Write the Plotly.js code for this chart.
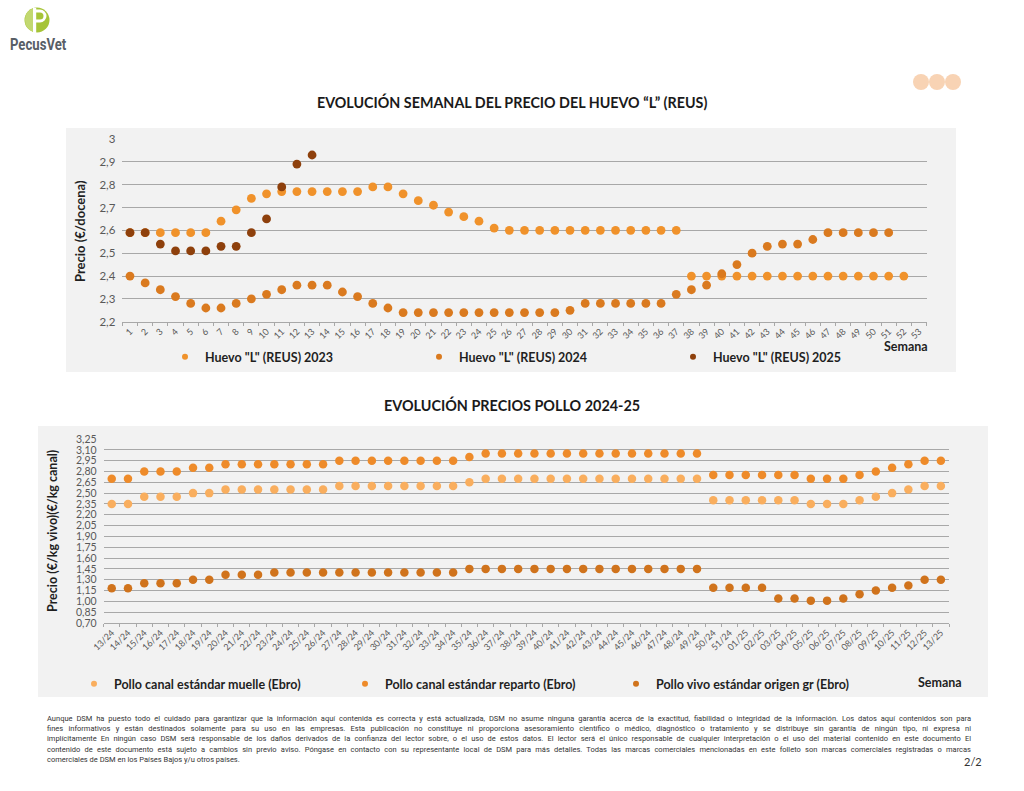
<!DOCTYPE html>
<html>
<head>
<meta charset="utf-8">
<script src="https://cdn.plot.ly/plotly-3.0.1.min.js"></script>
<style>
  html, body { margin: 0; padding: 0; background: #ffffff; }
  #wrap { position: relative; width: 1024px; height: 791px; overflow: hidden; }
  #chart { position: absolute; left: 0; top: 0; width: 1024px; height: 791px; }
  #logo { position: absolute; left: 0; top: 0; width: 90px; height: 60px; }
  #logoText { position: absolute; left: 10px; top: 35px; font-family: "Roboto", "Liberation Sans", sans-serif; font-weight: bold; font-size: 16px; color: #585e66; transform: scaleX(0.82); transform-origin: left top; }
  #dots { position: absolute; left: 905px; top: 68px; }
  #footer { position: absolute; left: 47px; top: 714px; width: 924px; font-family: "Roboto", "Liberation Sans", sans-serif; font-size: 7.5px; line-height: 10.2px; color: #333333; }
  #footer div { white-space: nowrap; text-align: justify; text-align-last: justify; }
  #footer div.last { text-align-last: left; }
  #page { position: absolute; left: 964px; top: 755px; font-family: "Lato", sans-serif; font-size: 11px; color: #333333; }
</style>
</head>
<body>
<div id="wrap">
  <div id="chart"></div>
  <svg id="logo" width="90" height="60" viewBox="0 0 90 60">
    <circle cx="37" cy="20" r="12.5" fill="#a6c437"/>
    <path d="M25 20 A12.5 12.5 0 0 1 33 8.3 L33 31.7 A12.5 12.5 0 0 1 25 20 Z" fill="#c2d870"/>
    <rect x="33" y="8" width="3.2" height="25" fill="#ffffff"/>
    <path d="M36 11 L40 11 A5 5 0 0 1 40 21 L36 21" fill="none" stroke="#ffffff" stroke-width="3"/>
  </svg>
  <div id="logoText">PecusVet</div>
  <svg id="dots" width="60" height="30">
    <circle cx="16" cy="14" r="8" fill="#f8d3b4"/>
    <circle cx="32" cy="14" r="8" fill="#f8d3b4"/>
    <circle cx="48" cy="14" r="8" fill="#f8d3b4"/>
  </svg>
  <div id="footer">
    <div>Aunque DSM ha puesto todo el cuidado para garantizar que la información aquí contenida es correcta y está actualizada, DSM no asume ninguna garantía acerca de la exactitud, fiabilidad o integridad de la información. Los datos aquí contenidos son para</div>
    <div>fines informativos y están destinados solamente para su uso en las empresas. Esta publicación no constituye ni proporciona asesoramiento científico o médico, diagnóstico o tratamiento y se distribuye sin garantía de ningún tipo, ni expresa ni</div>
    <div>implícitamente En ningún caso DSM será responsable de los daños derivados de la confianza del lector sobre, o el uso de estos datos. El lector será el único responsable de cualquier interpretación o el uso del material contenido en este documento El</div>
    <div>contenido de este documento está sujeto a cambios sin previo aviso. Póngase en contacto con su representante local de DSM para más detalles. Todas las marcas comerciales mencionadas en este folleto son marcas comerciales registradas o marcas</div>
    <div class="last">comerciales de DSM en los Países Bajos y/u otros países.</div>
  </div>
  <div id="page">2/2</div>
</div>
<script>
// ---------- DATA: Huevo "L" (REUS) ----------
const semanas = ["1","2","3","4","5","6","7","8","9","10","11","12","13","14","15","16","17","18","19","20",
  "21","22","23","24","25","26","27","28","29","30","31","32","33","34","35","36","37","38","39","40",
  "41","42","43","44","45","46","47","48","49","50","51","52","53"];
const huevo2023 = [2.59,2.59,2.59,2.59,2.59,2.59,2.64,2.69,2.74,2.76,2.77,2.77,2.77,2.77,2.77,2.77,2.79,2.79,2.76,2.73,
  2.71,2.68,2.66,2.64,2.61,2.60,2.60,2.60,2.60,2.60,2.60,2.60,2.60,2.60,2.60,2.60,2.60,2.40,2.40,2.40,
  2.40,2.40,2.40,2.40,2.40,2.40,2.40,2.40,2.40,2.40,2.40,2.40];
const huevo2024 = [2.40,2.37,2.34,2.31,2.28,2.26,2.26,2.28,2.30,2.32,2.34,2.36,2.36,2.36,2.33,2.31,2.28,2.26,2.24,2.24,
  2.24,2.24,2.24,2.24,2.24,2.24,2.24,2.24,2.24,2.25,2.28,2.28,2.28,2.28,2.28,2.28,2.32,2.34,2.36,2.41,
  2.45,2.50,2.53,2.54,2.54,2.56,2.59,2.59,2.59,2.59,2.59];
const huevo2025 = [2.59,2.59,2.54,2.51,2.51,2.51,2.53,2.53,2.59,2.65,2.79,2.89,2.93];

// ---------- DATA: Pollo 2024-25 ----------
const semanasPollo = ["13/24","14/24","15/24","16/24","17/24","18/24","19/24","20/24","21/24","22/24","23/24","24/24","25/24",
  "26/24","27/24","28/24","29/24","30/24","31/24","32/24","33/24","34/24","35/24","36/24","37/24","38/24","39/24","40/24",
  "41/24","42/24","43/24","44/24","45/24","46/24","47/24","48/24","49/24","50/24","51/24",
  "01/25","02/25","03/25","04/25","05/25","06/25","07/25","08/25","09/25","10/25","11/25","12/25","13/25"];
const polloMuelle = [2.35,2.35,2.45,2.45,2.45,2.50,2.50,2.55,2.55,2.55,2.55,2.55,2.55,2.55,2.60,2.60,2.60,2.60,2.60,2.60,2.60,2.60,
  2.65,2.70,2.70,2.70,2.70,2.70,2.70,2.70,2.70,2.70,2.70,2.70,2.70,2.70,2.70,
  2.40,2.40,2.40,2.40,2.40,2.40,2.35,2.35,2.35,2.40,2.45,2.50,2.55,2.60,2.60];
const polloReparto = [2.70,2.70,2.80,2.80,2.80,2.85,2.85,2.90,2.90,2.90,2.90,2.90,2.90,2.90,2.95,2.95,2.95,2.95,2.95,2.95,2.95,2.95,
  3.00,3.05,3.05,3.05,3.05,3.05,3.05,3.05,3.05,3.05,3.05,3.05,3.05,3.05,3.05,
  2.75,2.75,2.75,2.75,2.75,2.75,2.70,2.70,2.70,2.75,2.80,2.85,2.90,2.95,2.95];
const polloVivo = [1.18,1.18,1.25,1.25,1.25,1.30,1.30,1.37,1.37,1.37,1.40,1.40,1.40,1.40,1.40,1.40,1.40,1.40,1.40,1.40,1.40,1.40,
  1.45,1.45,1.45,1.45,1.45,1.45,1.45,1.45,1.45,1.45,1.45,1.45,1.45,1.45,1.45,
  1.19,1.19,1.19,1.19,1.04,1.04,1.01,1.01,1.04,1.10,1.15,1.19,1.22,1.30,1.30];

const nombresHuevo = ['Huevo "L" (REUS) 2023','Huevo "L" (REUS) 2024','Huevo "L" (REUS) 2025'];
const nombresPollo = ['Pollo canal estándar muelle (Ebro)','Pollo canal estándar reparto (Ebro)','Pollo vivo estándar origen gr (Ebro)'];

// ---------- STYLE ----------
const W = 1024, H = 791;
const px = v => v / W;
const py = v => 1 - v / H;
const FONT = 'Lato, "Open Sans", sans-serif';
const colH = ['#f0922b', '#da7a1f', '#8e400c'];
const colP = ['#f9ae5e', '#ee8b2a', '#d0731c'];
const grid = '#a8a8a8';
const tickCol = '#595959';

function pts(x, y, color, xa, ya, size) {
  return { type: 'scatter', mode: 'markers', x: x, y: y, xaxis: xa, yaxis: ya,
    marker: { color: color, size: size }, cliponaxis: false, showlegend: false, hoverinfo: 'skip' };
}
function legendItem(name, color, lg) {
  return { type: 'scatter', mode: 'markers', x: [null], y: [null], xaxis: lg === 'legend' ? 'x' : 'x2',
    yaxis: lg === 'legend' ? 'y' : 'y3', name: name, legend: lg,
    marker: { color: color, size: 6 }, showlegend: true, hoverinfo: 'skip' };
}

const traces = [
  pts(semanas.slice(0, huevo2023.length), huevo2023, colH[0], 'x', 'y', 8.8),
  pts(semanas.slice(0, huevo2024.length), huevo2024, colH[1], 'x', 'y', 8.8),
  pts(semanas.slice(0, huevo2025.length), huevo2025, colH[2], 'x', 'y', 8.8),
  pts(semanasPollo, polloMuelle, colP[0], 'x2', 'y3', 8.5),
  pts(semanasPollo, polloReparto, colP[1], 'x2', 'y3', 8.5),
  pts(semanasPollo, polloVivo, colP[2], 'x2', 'y3', 8.5),
  legendItem(nombresHuevo[0], colH[0], 'legend'),
  legendItem(nombresHuevo[1], colH[1], 'legend'),
  legendItem(nombresHuevo[2], colH[2], 'legend'),
  legendItem(nombresPollo[0], colP[0], 'legend2'),
  legendItem(nombresPollo[1], colP[1], 'legend2'),
  legendItem(nombresPollo[2], colP[2], 'legend2')
];

const xCommon = { type: 'category', tickson: 'boundaries', ticks: 'outside', ticklen: 3, tickcolor: grid,
  showline: true, linecolor: grid, linewidth: 1, showgrid: false, zeroline: false, tickangle: -45,
  tickfont: { family: FONT, size: 9, color: tickCol }, fixedrange: true };
const yCommon = { showgrid: true, gridcolor: grid, gridwidth: 1, zeroline: false, showline: false, ticks: '',
  fixedrange: true };

const layout = {
  width: W, height: H, margin: { l: 0, r: 0, t: 0, b: 0 },
  paper_bgcolor: '#ffffff', plot_bgcolor: 'rgba(0,0,0,0)',
  separators: ',.',
  font: { family: FONT, color: '#222222' },
  xaxis: Object.assign({}, xCommon, { domain: [px(122.4), px(926.6)], anchor: 'y',
    categoryorder: 'array', categoryarray: semanas, range: [-0.5, semanas.length - 0.5] }),
  yaxis: Object.assign({}, yCommon, { domain: [py(321.7), py(139)], anchor: 'x', range: [2.2, 3.0], dtick: 0.1,
    tickfont: { family: FONT, size: 11.5, color: tickCol }, ticklabelstandoff: 6 }),
  yaxis2: Object.assign({}, yCommon, { overlaying: 'y', side: 'right', anchor: 'x', range: [2.2, 3.0], dtick: 0.1,
    showgrid: false, tickfont: { family: FONT, size: 11.5, color: tickCol }, ticklabelstandoff: 8 }),
  xaxis2: Object.assign({}, xCommon, { domain: [px(103.6), px(949)], anchor: 'y3',
    categoryorder: 'array', categoryarray: semanasPollo, range: [-0.5, semanasPollo.length - 0.5] }),
  yaxis3: Object.assign({}, yCommon, { domain: [py(623), py(439)], anchor: 'x2', range: [0.70, 3.25], dtick: 0.15,
    tick0: 0.70, tickformat: '.2f', tickfont: { family: FONT, size: 10.5, color: tickCol }, ticklabelstandoff: 6 }),
  yaxis4: Object.assign({}, yCommon, { overlaying: 'y3', side: 'right', anchor: 'x2', range: [0.70, 3.25], dtick: 0.15,
    tick0: 0.70, tickformat: '.2f', showgrid: false, tickfont: { family: FONT, size: 10.5, color: tickCol }, ticklabelstandoff: 8 }),
  legend: { orientation: 'h', x: px(165), y: py(357), xanchor: 'left', yanchor: 'middle',
    bgcolor: 'rgba(0,0,0,0)', entrywidth: 209, entrywidthmode: 'pixels', traceorder: 'normal',
    font: { family: FONT, size: 12.5, color: '#1f1f1f', weight: 'bold' } },
  legend2: { orientation: 'h', x: px(74), y: py(684), xanchor: 'left', yanchor: 'middle',
    bgcolor: 'rgba(0,0,0,0)', entrywidth: 226, entrywidthmode: 'pixels', traceorder: 'normal',
    font: { family: FONT, size: 12.5, color: '#1f1f1f', weight: 'bold' } },
  shapes: [
    { type: 'rect', xref: 'paper', yref: 'paper', x0: px(66), x1: px(956), y0: py(372), y1: py(128),
      fillcolor: '#f2f2f2', line: { width: 0 }, layer: 'below' },
    { type: 'rect', xref: 'paper', yref: 'paper', x0: px(38), x1: px(988), y0: py(697), y1: py(426),
      fillcolor: '#f2f2f2', line: { width: 0 }, layer: 'below' }
  ],
  annotations: [
    { xref: 'paper', yref: 'paper', x: px(512), y: py(102), text: 'EVOLUCIÓN SEMANAL DEL PRECIO DEL HUEVO “L” (REUS)',
      showarrow: false, xanchor: 'center', yanchor: 'middle', font: { family: FONT, size: 14.3, color: '#1a1a1a', weight: 'bold' } },
    { xref: 'paper', yref: 'paper', x: px(512), y: py(405), text: 'EVOLUCIÓN PRECIOS POLLO 2024-25',
      showarrow: false, xanchor: 'center', yanchor: 'middle', font: { family: FONT, size: 14.4, color: '#1a1a1a', weight: 'bold' } },
    { xref: 'paper', yref: 'paper', x: px(80), y: py(231), text: 'Precio (€/docena)', textangle: -90,
      showarrow: false, xanchor: 'center', yanchor: 'middle', font: { family: FONT, size: 13, color: '#1f1f1f', weight: 'bold' } },
    { xref: 'paper', yref: 'paper', x: px(52), y: py(531), text: 'Precio (€/kg vivo)(€/kg canal)', textangle: -90,
      showarrow: false, xanchor: 'center', yanchor: 'middle', font: { family: FONT, size: 12.5, color: '#1f1f1f', weight: 'bold' } },
    { xref: 'paper', yref: 'paper', x: px(906), y: py(346), text: 'Semana',
      showarrow: false, xanchor: 'center', yanchor: 'middle', font: { family: FONT, size: 12.5, color: '#1f1f1f', weight: 'bold' } },
    { xref: 'paper', yref: 'paper', x: px(940), y: py(682), text: 'Semana',
      showarrow: false, xanchor: 'center', yanchor: 'middle', font: { family: FONT, size: 12.5, color: '#1f1f1f', weight: 'bold' } }
  ]
};

Plotly.newPlot('chart', traces, layout, { staticPlot: true, displayModeBar: false });
</script>
</body>
</html>
